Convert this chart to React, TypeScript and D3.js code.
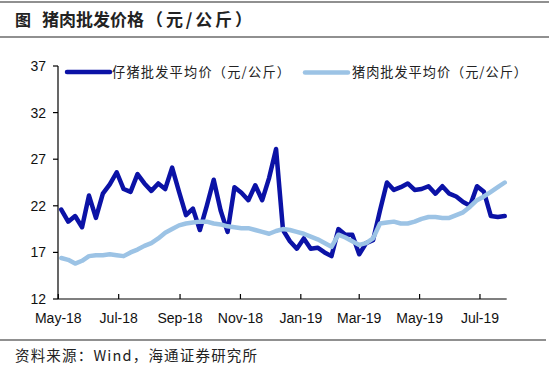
import React from "react";
import * as d3 from "d3";

const START_DATE = "2018-05-04";
const pigletPrice = [
  21.6, 20.3, 20.9, 19.7, 23.1, 20.7, 23.3, 24.3, 25.6, 23.8,
  23.5, 25.4, 24.4, 23.6, 24.4, 23.8, 26.1, 23.5, 21.0, 21.7,
  19.4, 22.0, 24.8, 21.5, 19.2, 24.0, 23.4, 22.6, 24.2, 22.6,
  25.0, 28.1, 19.4, 18.2, 17.4, 18.5, 17.4, 17.5, 17.0, 16.6,
  19.5, 18.9, 18.9, 16.8, 18.0, 18.3, 21.5, 24.5, 23.7, 24.0,
  24.4, 23.7, 23.8, 24.1, 23.3, 24.1, 23.3, 23.0, 22.4, 22.0,
  24.1, 23.5, 20.9, 20.8, 20.9,
];
const porkPrice = [
  16.4, 16.2, 15.8, 16.1, 16.6, 16.7, 16.7, 16.8, 16.7, 16.6,
  17.0, 17.3, 17.7, 18.0, 18.5, 19.1, 19.5, 19.9, 20.1, 20.2,
  20.3, 20.3, 20.1, 20.0, 19.8, 19.7, 19.6, 19.6, 19.4, 19.2,
  19.0, 19.3, 19.5, 19.4, 19.2, 19.0, 18.7, 18.4, 18.0, 17.6,
  18.9, 18.6, 18.2, 17.8, 18.0, 18.5, 20.1, 20.2, 20.3, 20.1,
  20.1, 20.3, 20.6, 20.8, 20.8, 20.7, 20.7, 21.0, 21.3, 21.9,
  22.6, 23.0, 23.5, 24.0, 24.5,
];
const yTicks = [12, 17, 22, 27, 32, 37];
const xTickDates = ["2018-05-01", "2018-07-01", "2018-09-01", "2018-11-01", "2019-01-01", "2019-03-01", "2019-05-01", "2019-07-01"];
const xTickLabels = ["May-18", "Jul-18", "Sep-18", "Nov-18", "Jan-19", "Mar-19", "May-19", "Jul-19"];
const seriesNames = ["仔猪批发平均价（元/公斤）", "猪肉批发平均价（元/公斤）"];
const titleMain = "猪肉批发价格";
const titleUnit = "（元/公斤）";
const source = "资料来源：Wind，海通证券研究所";

const parse = d3.utcParse("%Y-%m-%d");

export default function App() {
  const start = parse(START_DATE)!;
  const dates = pigletPrice.map((_, i) => d3.utcDay.offset(start, 7 * i));
  const x = d3.scaleUtc().domain([parse("2018-05-01")!, parse("2019-07-28")!]).range([58.3, 506.7]);
  const y = d3.scaleLinear().domain([12, 37]).range([299, 66]);
  const line = d3
    .line<number>()
    .x((_, i) => x(dates[i]))
    .y((d) => y(d))
    .curve(d3.curveLinear);
  const cjk = "'Noto Sans CJK SC', sans-serif";
  const latin = "Arial, 'Liberation Sans', sans-serif";
  const dark = "#0b12a6";
  const light = "#9cc3e5";
  return (
    <svg width={549} height={368} style={{ position: "absolute", left: 0, top: 0, background: "#fff" }}>
      <rect width={549} height={368} fill="#fff" />
      <line x1={0} x2={549} y1={2} y2={2} stroke="#222" strokeWidth={1.2} />
      <line x1={0} x2={549} y1={37} y2={37} stroke="#222" strokeWidth={1.2} />
      <text x={15} y={26} fontFamily={cjk} fontSize={16} fontWeight="bold" fill="#222">图</text>
      <text x={42} y={26} fontFamily={cjk} fontSize={17} fontWeight="bold" fill="#222">{titleMain}</text>
      <text x={146} y={26} fontFamily={cjk} fontSize={17} fontWeight="bold" fill="#222" textLength={106} lengthAdjust="spacing">{titleUnit}</text>

      {/* y axis */}
      <line x1={58} x2={58} y1={y(37)} y2={y(12)} stroke="#000" strokeWidth={1.2} />
      {yTicks.map((t) => (
        <g key={t}>
          <line x1={53} x2={58} y1={y(t)} y2={y(t)} stroke="#000" strokeWidth={1.2} />
          <text x={46} y={y(t)} dy="0.35em" textAnchor="end" fontFamily={latin} fontSize={14} fill="#111">{t}</text>
        </g>
      ))}
      {/* x axis */}
      <line x1={58} x2={506.7} y1={299} y2={299} stroke="#000" strokeWidth={1.2} />
      {xTickDates.map((d, i) => {
        const xx = x(parse(d)!);
        return (
          <g key={d}>
            <line x1={xx} x2={xx} y1={294} y2={299} stroke="#000" strokeWidth={1.2} />
            <text x={xx} y={318} dy="0.35em" textAnchor="middle" fontFamily={latin} fontSize={14} fill="#111">{xTickLabels[i]}</text>
          </g>
        );
      })}

      <path d={line(pigletPrice) || ""} fill="none" stroke={dark} strokeWidth={4.5} strokeLinejoin="round" strokeLinecap="round" />
      <path d={line(porkPrice) || ""} fill="none" stroke={light} strokeWidth={4.5} strokeLinejoin="round" strokeLinecap="round" />

      {/* legend */}
      <line x1={67} x2={110} y1={72} y2={72} stroke={dark} strokeWidth={4.5} strokeLinecap="round" />
      <text x={112} y={72} dy="0.35em" fontFamily={cjk} fontSize={13.2} fill="#222" textLength={178} lengthAdjust="spacing">{seriesNames[0]}</text>
      <line x1={305} x2={348} y1={72.5} y2={72.5} stroke={light} strokeWidth={4.5} strokeLinecap="round" />
      <text x={352} y={72.5} dy="0.35em" fontFamily={cjk} fontSize={13.2} fill="#222" textLength={175} lengthAdjust="spacing">{seriesNames[1]}</text>

      <line x1={0} x2={546} y1={340} y2={340} stroke="#222" strokeWidth={1.2} />
      <text x={15} y={356} dy="0.35em" fontFamily={cjk} fontSize={14.5} fill="#222" textLength={242} lengthAdjust="spacing">{source}</text>
    </svg>
  );
}
